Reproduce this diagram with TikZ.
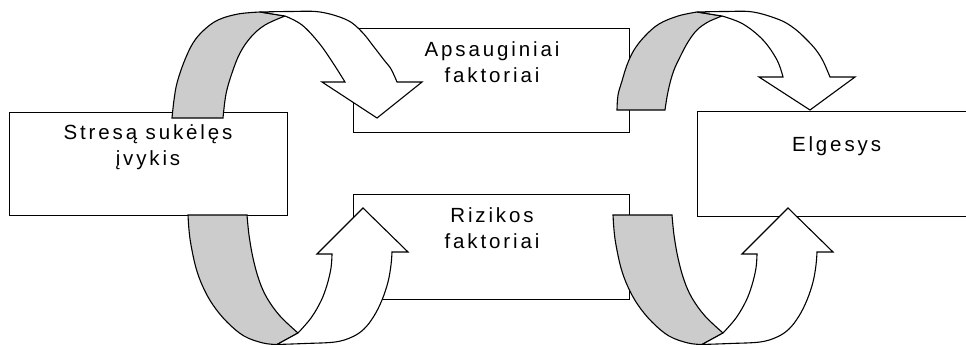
\documentclass[tikz,border=0pt]{standalone}
\usepackage{fontspec}
\newfontfamily\lblfamily[LetterSpace=14]{Liberation Sans}
\newcommand{\lblfont}{\lblfamily\fontsize{20.5}{25.8}\selectfont}
\begin{document}
\begin{tikzpicture}[x=1pt,y=-1pt,
  box/.style={draw, line width=1.2pt, fill=white, inner sep=0pt, anchor=north west},
  lbl/.style={font=\lblfont, align=center, inner sep=0pt, anchor=base},
  back/.style={draw, fill=black!20, line width=1.1pt, line join=miter},
  front/.style={draw, fill=white, line width=1.1pt, line join=miter},
  sm/.style={smooth, tension=0.6}]
\useasboundingbox (0,0) rectangle (966,345);
\clip (0,0) rectangle (966,345);
% boxes
\node[box, minimum width=278.3pt, minimum height=103pt] (leftbox) at (8.7,112) {};
\node[box, minimum width=276pt, minimum height=104pt] (protbox) at (353,28) {};
\node[box, minimum width=276pt, minimum height=105pt] (riskbox) at (353,194) {};
\node[box, minimum width=277pt, minimum height=105pt] (behbox) at (697,111) {};
% labels (base anchor = baseline of the last line)
\node[lbl] (stress) at (148,165) {Stresą sukėlęs\\įvykis};
\node[lbl] (prot) at (492,82.7) {Apsauginiai\\faktoriai};
\node[lbl] (risk) at (492,248) {Rizikos\\faktoriai};
\node[lbl] (beh) at (836.5,151) {Elgesys};
% arrow 1: from left box over to protective factors
\path[back] plot[sm] coordinates {(172,118) (174,100) (177,83) (184,62) (193,43) (204,30) (218,20) (238,14) (260,12)}
  -- (285,16)
  -- plot[sm] coordinates {(285,16) (265,25) (251,37) (240,53) (232,73) (226,94) (223,118)} -- cycle;
\path[front] plot[sm] coordinates {(260,12) (290,11.5) (320,12) (347,20) (362,32) (374,47) (384,60) (391,69) (397,82)}
  -- (422,82) -- (377,118) -- (322,82) -- (345,82)
  -- plot[sm] coordinates {(345,82) (333,63) (319,43) (302,25) (285,16)} -- cycle;
% arrow 2: from protective factors over to behaviour
\path[back] plot[sm] coordinates {(617,110) (618,95) (622,81) (627,65) (634,50) (645,36) (659,24) (678,16) (697,12)}
  -- (722,16)
  -- plot[sm] coordinates {(722,16) (708,22) (697,30) (688,42) (680,57) (674,70) (670,83) (667,97) (665,110)} -- cycle;
\path[front] plot[sm] coordinates {(697,12) (725,11.5) (753,12) (780,20) (795,29) (807,40) (816,50) (823,61) (830,77)}
  -- (855,77) -- (810,110) -- (759,77) -- (783,77)
  -- plot[sm] coordinates {(783,77) (777,60) (763,40) (743,24) (722,16)} -- cycle;
% arrows 3 and 4: from below up into the boxes
\foreach \dx/\nm in {0/lowA, 425/lowB}{
\begin{scope}[xshift=\dx pt]
\path[back] (188,215) -- (247,215)
  -- plot[sm] coordinates {(247,215) (249,235) (253,258) (259,280) (267,298) (280,316) (298,333)}
  -- (277,344.5)
  -- plot[sm] coordinates {(277,344.5) (263,343) (244,336) (227,322) (213,305) (203,287) (196,268) (191,245) (189,230) (188,215)} -- cycle;
\path[front] plot[sm] coordinates {(277,344.5) (305,343.5) (335,342) (352,337) (364,329) (374,316) (382,300) (388,282) (391,265) (392,252)}
  -- (408,252) -- (363,208) -- (317,254) -- (332,254)
  -- plot[sm] coordinates {(332,254) (331,268) (327,285) (321,301) (311,318) (298,333)} -- cycle;
\coordinate (\nm) at (363,208);
\end{scope}}
\end{tikzpicture}
\end{document}
